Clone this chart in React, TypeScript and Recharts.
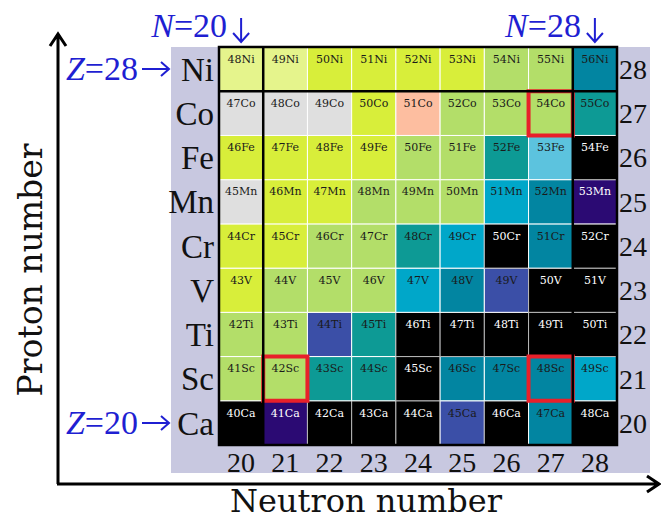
import { ReferenceArea, ReferenceLine, Scatter, ScatterChart, XAxis, YAxis } from "recharts";

const neutronNumbers = [20, 21, 22, 23, 24, 25, 26, 27, 28];
const protonNumbers = [20, 21, 22, 23, 24, 25, 26, 27, 28];
const elementSymbols = ["Ca", "Sc", "Ti", "V", "Cr", "Mn", "Fe", "Co", "Ni"];

// colour class of each nuclide, one list per element, N = 20..28
const caCells = ["k", "p", "k", "k", "k", "b", "k", "bt", "k"];
const scCells = ["g", "g", "t", "t", "k", "bt", "bt", "bt", "c"];
const tiCells = ["g", "g", "b", "t", "k", "k", "k", "k", "k"];
const vCells = ["y", "g", "g", "g", "c", "bt", "b", "k", "k"];
const crCells = ["y", "y", "g", "g", "t", "c", "k", "bt", "k"];
const mnCells = ["gr", "y", "y", "g", "g", "g", "c", "bt", "p"];
const feCells = ["y", "y", "y", "y", "g", "g", "t", "lb", "k"];
const coCells = ["gr", "gr", "gr", "y", "s", "g", "g", "g", "t"];
const niCells = ["ly", "ly", "y", "y", "y", "y", "g", "g", "bt"];

const highlighted = [
  { n: 21, z: 21 },
  { n: 27, z: 21 },
  { n: 27, z: 27 },
];
const shellLinesN = [20.5, 27.5];
const shellLinesZ = [27.5];

const PALETTE: Record<string, string> = {
  ly: "#e5f48c",
  y: "#d8ee3a",
  g: "#b3de69",
  gr: "#dfdfdf",
  s: "#fdbea0",
  t: "#0d9a95",
  lb: "#5cc3de",
  c: "#00a7c9",
  bt: "#0285a1",
  b: "#3b4fa7",
  p: "#2b0a73",
  k: "#000000",
};

const rows = [caCells, scCells, tiCells, vCells, crCells, mnCells, feCells, coCells, niCells];
const cells = protonNumbers.flatMap((z, zi) =>
  neutronNumbers.map((n, ni) => ({
    n,
    z,
    label: `${n + z}${elementSymbols[zi]}`,
    cls: rows[zi][ni],
  }))
);

const W = 661;
const H = 520;
const PLOT_LEFT = 219;
const PLOT_TOP = 47;
const CELL = 398 / 9;
const BLUE = "#1f1fd2";
const colX = (n: number) => PLOT_LEFT + (n - 19.5) * CELL;
const rowY = (z: number) => PLOT_TOP + (28.5 - z) * CELL;

function DownArrow({ n, text }: { n: number; text: string }) {
  const cx = colX(n);
  return (
    <g>
      <text x={cx - 14} y={37} textAnchor="end" fontSize={34} fontFamily="Liberation Serif" fill={BLUE}>
        <tspan fontStyle="italic">N</tspan>={text}
      </text>
      <path d={`M${cx} 18V42M${cx - 8} 33L${cx} 42L${cx + 8} 33`} stroke={BLUE} strokeWidth={2} fill="none" />
    </g>
  );
}

function RightArrow({ z, text }: { z: number; text: string }) {
  const cy = rowY(z);
  return (
    <g>
      <text x={138} y={cy + 11} textAnchor="end" fontSize={34} fontFamily="Liberation Serif" fill={BLUE}>
        <tspan fontStyle="italic">Z</tspan>={text}
      </text>
      <path d={`M142 ${cy}H169M161 ${cy - 7}L169 ${cy}L161 ${cy + 7}`} stroke={BLUE} strokeWidth={2} fill="none" />
    </g>
  );
}

export default function App() {
  const serif = "Liberation Serif";
  return (
    <div style={{ position: "absolute", left: 0, top: 0, width: W, height: H, background: "#fff" }}>
      <div style={{ position: "absolute", left: 171, top: 47, width: 479, height: 426, background: "#c8c8e0" }} />
      <div style={{ position: "absolute", left: 0, top: 0 }}>
        <ScatterChart width={W} height={H} margin={{ top: PLOT_TOP, right: 4, bottom: 45, left: 159 }}>
          <XAxis
            type="number"
            dataKey="n"
            domain={[19.5, 28.5]}
            ticks={neutronNumbers}
            allowDataOverflow
            axisLine={false}
            tickLine={false}
            tickSize={0}
            tickMargin={7}
            height={30}
            tick={{ fontSize: 28, fill: "#111", fontFamily: serif }}
          />
          <YAxis
            yAxisId="el"
            type="number"
            dataKey="z"
            domain={[19.5, 28.5]}
            ticks={protonNumbers}
            allowDataOverflow
            tickFormatter={(z) => elementSymbols[z - 20]}
            axisLine={false}
            tickLine={false}
            tickSize={0}
            tickMargin={5}
            width={60}
            tick={{ fontSize: 33, fill: "#111", fontFamily: serif }}
          />
          <YAxis
            yAxisId="num"
            orientation="right"
            type="number"
            domain={[19.5, 28.5]}
            ticks={protonNumbers}
            allowDataOverflow
            axisLine={false}
            tickLine={false}
            tickSize={0}
            tickMargin={2}
            width={40}
            tick={{ fontSize: 28, fill: "#111", fontFamily: serif }}
          />
          {cells.map((c) => (
            <ReferenceArea
              key={c.label}
              yAxisId="el"
              x1={c.n - 0.5}
              x2={c.n + 0.5}
              y1={c.z - 0.5}
              y2={c.z + 0.5}
              fill={PALETTE[c.cls]}
              fillOpacity={1}
              stroke={c.cls === "k" ? "#b8b8b8" : "#ffffff"}
              strokeWidth={1}
              label={{
                value: c.label,
                position: "insideTop",
                offset: 8,
                fill: c.cls === "k" || c.cls === "p" ? "#ffffff" : "#1a1a1a",
                fontSize: 11,
                fontFamily: "DejaVu Serif",
              }}
            />
          ))}
          <ReferenceArea
            yAxisId="el"
            x1={19.5}
            x2={28.5}
            y1={19.5}
            y2={28.5}
            fill="none"
            stroke="#000"
            strokeWidth={2.5}
          />
          {shellLinesN.map((x) => (
            <ReferenceLine key={`n${x}`} yAxisId="el" x={x} stroke="#000" strokeWidth={2.5} />
          ))}
          {shellLinesZ.map((y) => (
            <ReferenceLine key={`z${y}`} yAxisId="el" y={y} stroke="#000" strokeWidth={2.5} />
          ))}
          {highlighted.map((h) => (
            <ReferenceArea
              key={`h${h.n}-${h.z}`}
              yAxisId="el"
              x1={h.n - 0.5}
              x2={h.n + 0.5}
              y1={h.z - 0.5}
              y2={h.z + 0.5}
              fill="none"
              stroke="#e8202a"
              strokeWidth={4}
            />
          ))}
          <Scatter yAxisId="el" data={cells} isAnimationActive={false} shape={() => <g />} />
        </ScatterChart>
      </div>
      <svg width={W} height={H} style={{ position: "absolute", left: 0, top: 0, pointerEvents: "none" }}>
        <path d="M58 484V35M50 46L58 34L66 46" stroke="#000" strokeWidth={3} fill="none" />
        <path d="M57 484H658M647 476L659 484L647 492" stroke="#000" strokeWidth={3} fill="none" />
        <text x={42} y={270} transform="rotate(-90 42 270)" textAnchor="middle" fontSize={33} fontFamily="DejaVu Serif" fill="#111">
          Proton number
        </text>
        <text x={366} y={512} textAnchor="middle" fontSize={32} fontFamily="DejaVu Serif" fill="#111">
          Neutron number
        </text>
        <DownArrow n={20} text="20" />
        <DownArrow n={28} text="28" />
        <RightArrow z={28} text="28" />
        <RightArrow z={20} text="20" />
      </svg>
    </div>
  );
}
